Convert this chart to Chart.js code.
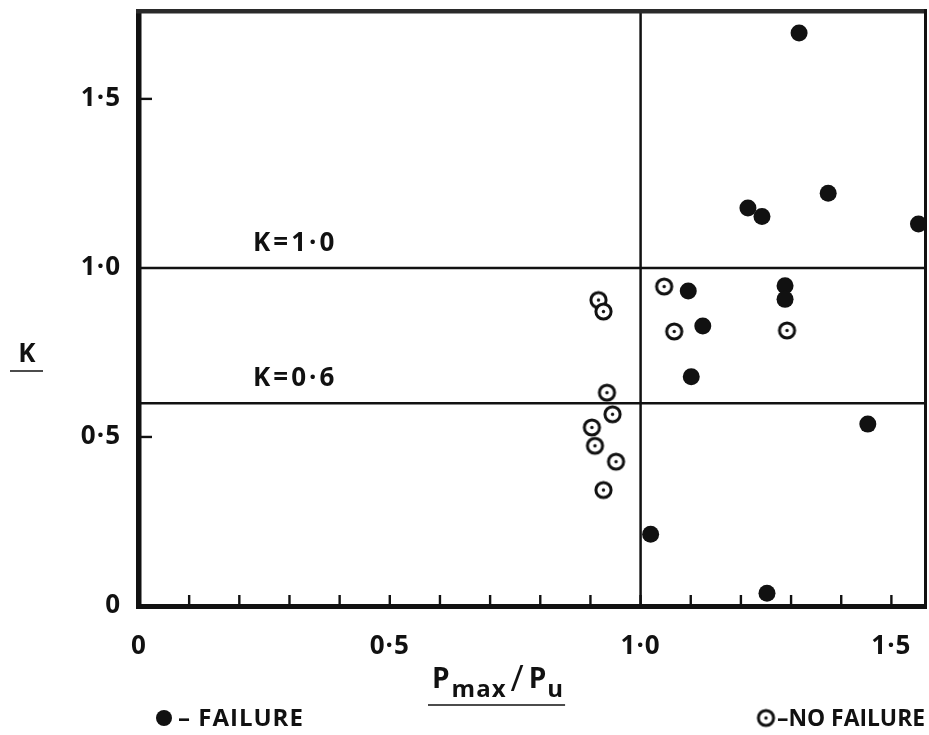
<!DOCTYPE html>
<html>
<head>
<meta charset="utf-8">
<script src="https://cdn.jsdelivr.net/npm/chart.js@4.4.1/dist/chart.umd.min.js"></script>
<style>
html,body{margin:0;padding:0;background:#fff;}
#wrap{width:929px;height:735px;position:relative;}
</style>
</head>
<body>
<div id="wrap"><canvas id="c" width="929" height="735"></canvas></div>
<script>
// ---- data ----
const failureX = [1.316, 1.214, 1.242, 1.374, 1.554, 1.095, 1.124, 1.101, 1.288, 1.288, 1.020, 1.252, 1.453];
const failureK = [1.695, 1.177, 1.152, 1.221, 1.130, 0.932, 0.828, 0.678, 0.947, 0.907, 0.212, 0.038, 0.538];
const noFailureX = [1.047, 0.916, 0.926, 1.067, 1.292, 0.933, 0.944, 0.903, 0.909, 0.951, 0.926];
const noFailureK = [0.945, 0.905, 0.871, 0.812, 0.815, 0.631, 0.567, 0.528, 0.474, 0.427, 0.343];
const xTickValues = [0, 0.5, 1.0, 1.5];
const xTickLabels = ['0', '0·5', '1·0', '1·5'];
const yTickValues = [0, 0.5, 1.0, 1.5];
const yTickLabels = ['0', '0·5', '1·0', '1·5'];
const xMinorTicks = [0.1,0.2,0.3,0.4,0.5,0.6,0.7,0.8,0.9,1.0,1.1,1.2,1.3,1.4,1.5];
const yMinorTicks = [0.5, 1.5];
const kLevels = [1.0, 0.6];
const kLevelLabels = ['K=1·0', 'K=0·6'];
const pRatioLine = 1.0;
const xRange = [0, 1.571];
const yRange = [0, 1.757];

const FONT = '"Open Sans", "DejaVu Sans", sans-serif';
const INK = '#111';

function openMarker(r){
  const s = Math.ceil(r*2+5);
  const c = document.createElement('canvas');
  c.width = s; c.height = s;
  const g = c.getContext('2d');
  g.beginPath(); g.arc(s/2, s/2, r, 0, Math.PI*2);
  g.fillStyle = '#fff'; g.fill();
  g.lineWidth = 3; g.strokeStyle = INK; g.stroke();
  g.beginPath(); g.arc(s/2, s/2, 1.7, 0, Math.PI*2);
  g.fillStyle = INK; g.fill();
  return c;
}
const openImg = openMarker(7.6);

const failurePts = failureX.map((x,i)=>({x, y: failureK[i]}));
const noFailurePts = noFailureX.map((x,i)=>({x, y: noFailureK[i]}));

const decorPlugin = {
  id: 'decor',
  beforeDraw(chart){
    chart.ctx.letterSpacing = '1px';
  },
  beforeDatasetsDraw(chart){
    const {ctx, chartArea:a, scales:{x, y}} = chart;
    ctx.save();
    ctx.strokeStyle = INK;
    ctx.lineCap = 'butt';
    ctx.lineWidth = 2.4;
    xMinorTicks.forEach(v=>{
      const px = x.getPixelForValue(v);
      ctx.beginPath(); ctx.moveTo(px, a.bottom); ctx.lineTo(px, a.bottom-11); ctx.stroke();
    });
    yMinorTicks.forEach(v=>{
      const py = y.getPixelForValue(v);
      ctx.beginPath(); ctx.moveTo(a.left, py); ctx.lineTo(a.left+13, py); ctx.stroke();
    });
    ctx.lineWidth = 2.5;
    kLevels.forEach(v=>{
      const py = y.getPixelForValue(v);
      ctx.beginPath(); ctx.moveTo(a.left, py); ctx.lineTo(a.right, py); ctx.stroke();
    });
    const vx = x.getPixelForValue(pRatioLine);
    ctx.beginPath(); ctx.moveTo(vx, a.top); ctx.lineTo(vx, a.bottom); ctx.stroke();
    ctx.fillStyle = INK;
    ctx.fillRect(a.left-3, a.top-2, 5.5, a.bottom-a.top+5);
    ctx.fillRect(a.left-3, a.bottom-2, a.right-a.left+3, 5);
    ctx.fillStyle = '#2a2a2a';
    ctx.fillRect(a.left-3, a.top-3, a.right-a.left+3, 4.5);
    ctx.fillStyle = INK;
    ctx.fillRect(a.right-3, a.top-3, 3, a.bottom-a.top+5);
    ctx.fillStyle = INK;
    ctx.font = '700 26px ' + FONT;
    ctx.letterSpacing = '3px';
    ctx.textAlign = 'left'; ctx.textBaseline = 'alphabetic';
    kLevels.forEach((v,i)=>{
      const py = y.getPixelForValue(v);
      ctx.fillText(kLevelLabels[i], 253, py - 17);
    });
    ctx.restore();
  },
  afterDraw(chart){
    const {ctx} = chart;
    ctx.save();
    ctx.fillStyle = INK; ctx.strokeStyle = INK;
    ctx.letterSpacing = '0px';
    ctx.font = '700 26px ' + FONT;
    ctx.textAlign = 'center'; ctx.textBaseline = 'alphabetic';
    ctx.fillText('K', 27, 362);
    ctx.lineWidth = 1.5;
    ctx.beginPath(); ctx.moveTo(10, 371); ctx.lineTo(43, 371); ctx.stroke();
    ctx.textAlign = 'left';
    let cx = 432;
    const base = 688;
    ctx.font = '700 28px ' + FONT;
    ctx.fillText('P', cx, base); cx += ctx.measureText('P').width + 2;
    ctx.font = '700 24px ' + FONT;
    ctx.letterSpacing = '1px';
    ctx.fillText('max', cx, base + 9); cx += ctx.measureText('max').width + 4;
    ctx.letterSpacing = '0px';
    ctx.font = '400 36px ' + FONT;
    ctx.fillText('/', cx, base + 3); cx += ctx.measureText('/').width + 5;
    ctx.font = '700 28px ' + FONT;
    ctx.fillText('P', cx, base); cx += ctx.measureText('P').width + 1;
    ctx.font = '700 24px ' + FONT;
    ctx.fillText('u', cx, base + 9); cx += ctx.measureText('u').width;
    ctx.lineWidth = 1.5;
    ctx.beginPath(); ctx.moveTo(428, 705); ctx.lineTo(cx + 2, 705); ctx.stroke();
    ctx.beginPath(); ctx.arc(164, 718, 8, 0, Math.PI*2); ctx.fill();
    ctx.font = '700 24px ' + FONT;
    ctx.letterSpacing = '1px';
    ctx.textBaseline = 'middle';
    ctx.fillText('– FAILURE', 178, 719);
    ctx.drawImage(openImg, 766 - openImg.width/2, 718 - openImg.height/2);
    ctx.letterSpacing = '0px';
    ctx.fillText('–NO FAILURE', 777, 719, 148);
    ctx.restore();
  }
};

function zeroPad(s){ s.paddingTop = 0; s.paddingBottom = 0; s.paddingLeft = 0; s.paddingRight = 0; }

new Chart(document.getElementById('c'), {
  type: 'scatter',
  data: {
    datasets: [
      { label: 'FAILURE', data: failurePts, pointStyle: 'circle', pointRadius: 8.5, pointHoverRadius: 8.5,
        backgroundColor: INK, borderColor: INK, borderWidth: 0, clip: false },
      { label: 'NO FAILURE', data: noFailurePts, pointStyle: openImg, pointRadius: 8, pointHoverRadius: 8,
        backgroundColor: '#fff', borderColor: INK, clip: false }
    ]
  },
  options: {
    responsive: false,
    animation: false,
    events: [],
    layout: { autoPadding: false, padding: { left: 0, right: 2, top: 12, bottom: 0 } },
    plugins: { legend: { display: false }, tooltip: { enabled: false } },
    scales: {
      x: {
        type: 'linear', min: xRange[0], max: xRange[1],
        grid: { display: false, drawTicks: false }, border: { display: false },
        afterBuildTicks: s => { s.ticks = xTickValues.map(v => ({ value: v })); },
        afterFit: s => { s.height = 129; zeroPad(s); },
        ticks: { padding: 25, color: INK, font: { family: FONT, size: 26, weight: '700' },
          maxRotation: 0, autoSkip: false,
          callback: (v) => { const i = xTickValues.indexOf(v); return i >= 0 ? xTickLabels[i] : ''; } }
      },
      y: {
        type: 'linear', min: yRange[0], max: yRange[1],
        grid: { display: false, drawTicks: false }, border: { display: false },
        afterBuildTicks: s => { s.ticks = yTickValues.map(v => ({ value: v })); },
        afterFit: s => { s.width = 139; zeroPad(s); },
        ticks: { padding: 18, color: INK, font: { family: FONT, size: 26, weight: '700' },
          autoSkip: false,
          callback: (v) => { const i = yTickValues.indexOf(v); return i >= 0 ? yTickLabels[i] : ''; } }
      }
    }
  },
  plugins: [decorPlugin]
});
</script>
</body>
</html>
